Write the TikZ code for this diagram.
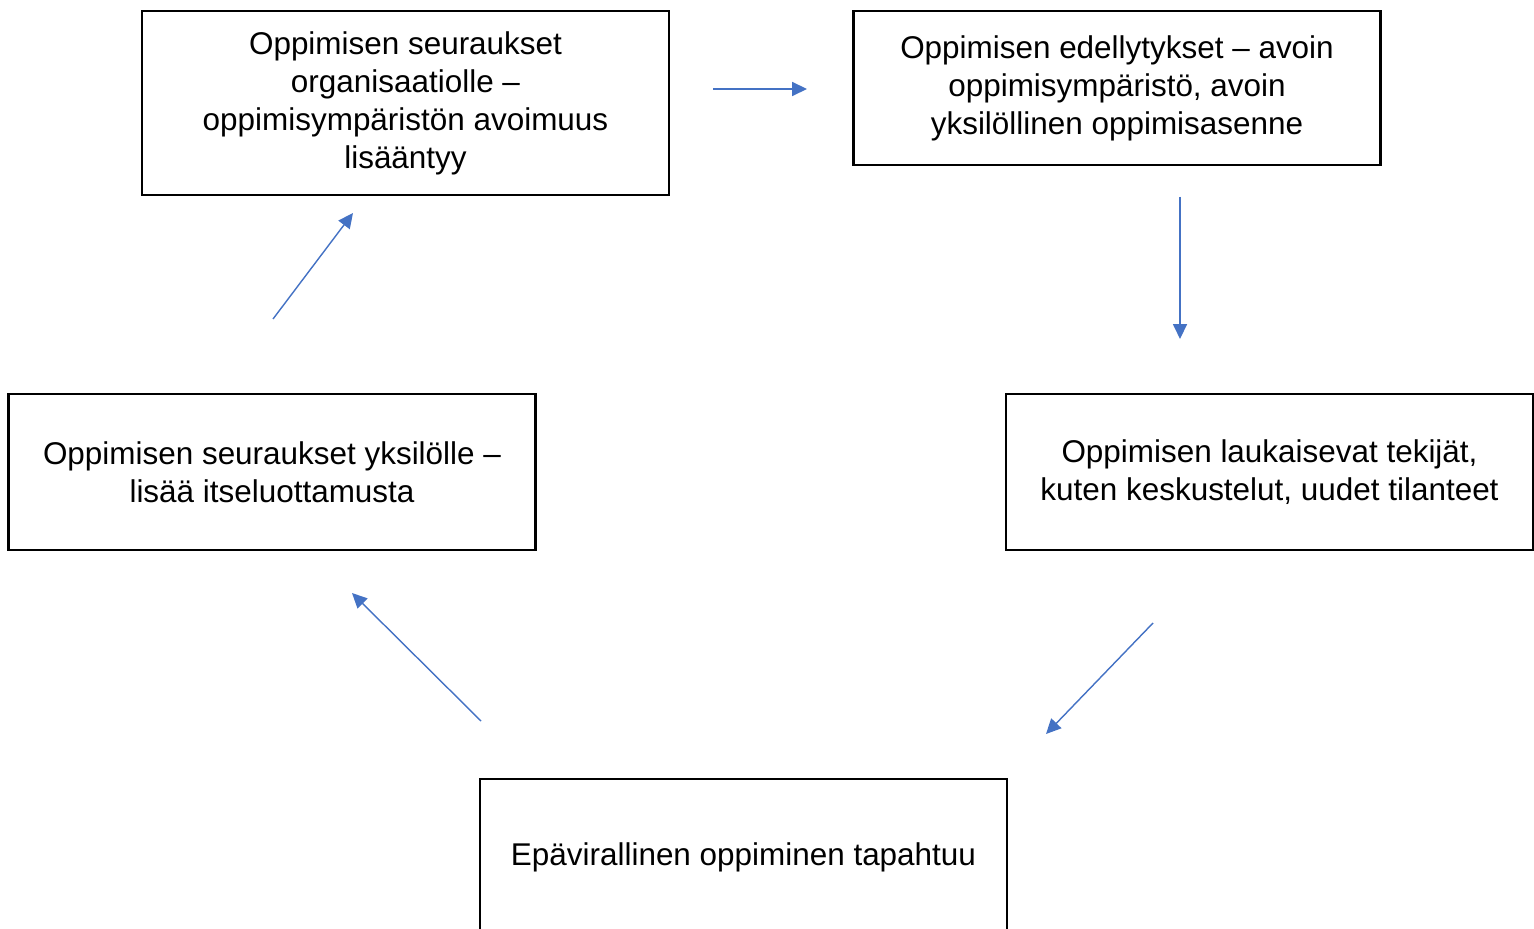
\documentclass[tikz,border=0pt]{standalone}
\usepackage{fontspec}
\setmainfont{Liberation Sans}
\usetikzlibrary{positioning, arrows.meta}
\definecolor{arrowblue}{HTML}{4472C4}

\begin{document}
\begin{tikzpicture}[x=0.02cm, y=-0.02cm, >={Triangle[length=8.5pt, width=8pt]}]

    \useasboundingbox (0,0) rectangle (1534,929);

    % --- Styles ---
    \tikzset{
        stagebox/.style={draw, line width=1.4pt, align=center, inner sep=4pt,
            minimum width=10.55cm, font=\fontsize{17.9}{21.6}\selectfont},
        flowarrow/.style={->, draw=arrowblue, fill=arrowblue, line width=0.8pt}
    }

    % --- Boxes of the cycle ---
    \node[stagebox, minimum height=3.68cm] (orgres) at (405.5,103)
        {Oppimisen seuraukset\\organisaatiolle –\\oppimisympäristön avoimuus\\lisääntyy};
    \node[stagebox, minimum height=3.08cm] (precond) at (1117,88)
        {Oppimisen edellytykset – avoin\\oppimisympäristö, avoin\\yksilöllinen oppimisasenne};
    \node[stagebox, minimum height=3.12cm] (trigger) at (1269.5,472)
        {Oppimisen laukaisevat tekijät,\\kuten keskustelut, uudet tilanteet};
    \node[stagebox, minimum height=3.12cm] (informal) at (743.5,857)
        {Epävirallinen oppiminen tapahtuu};
    \node[stagebox, minimum height=3.12cm] (indres) at (272,472)
        {Oppimisen seuraukset yksilölle –\\lisää itseluottamusta};

    % --- Arrow ends (free-floating between boxes) ---
    \coordinate (a1s) at (713,89);   \coordinate (a1e) at (807,89);
    \coordinate (a2s) at (1180,197); \coordinate (a2e) at (1180,339);
    \coordinate (a3s) at (1153,623); \coordinate (a3e) at (1046,734);
    \coordinate (a4s) at (481,721);  \coordinate (a4e) at (352,593);
    \coordinate (a5s) at (273,319);  \coordinate (a5e) at (353,213);

    % --- Arrows ---
    \draw[flowarrow] (a1s) -- (a1e);
    \draw[flowarrow] (a2s) -- (a2e);
    \draw[flowarrow] (a3s) -- (a3e);
    \draw[flowarrow] (a4s) -- (a4e);
    \draw[flowarrow] (a5s) -- (a5e);

\end{tikzpicture}
\end{document}
